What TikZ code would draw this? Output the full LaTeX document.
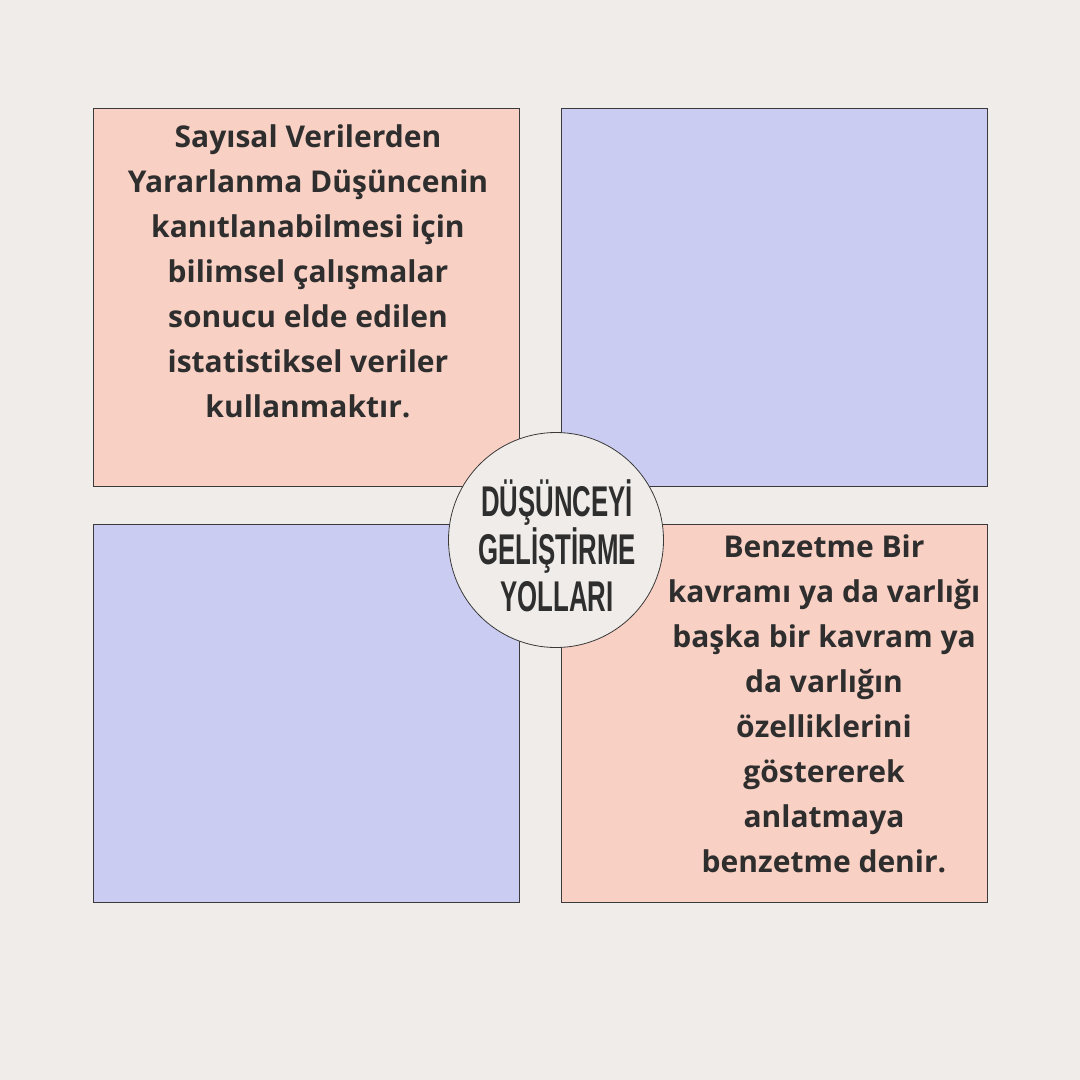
\documentclass[tikz,border=0pt]{standalone}
\usepackage{fontspec}
\setmainfont{Open Sans}
\newfontfamily\titlefont{Liberation Sans}
\definecolor{bgc}{HTML}{F0ECEA}
\definecolor{peach}{HTML}{F9D0C4}
\definecolor{lav}{HTML}{CACCF2}
\definecolor{ink}{HTML}{2E2E2E}
\definecolor{edge}{HTML}{3A3A3A}
\tikzset{
  panel/.style={draw=edge, line width=0.8pt},
  bodytext/.style={text=ink, align=center, inner sep=0pt, anchor=north,
    font=\fontsize{30}{45}\selectfont\bfseries},
  hub/.style={circle, draw=edge, line width=0.8pt, fill=bgc, minimum size=215pt, inner sep=0pt},
  hubtext/.style={text=ink, align=center, inner sep=0pt, xscale=0.6, transform shape,
    font=\fontsize{43}{47.5}\selectfont\titlefont\bfseries}
}
\begin{document}
\begin{tikzpicture}[x=1pt,y=-1pt]
\fill[bgc] (0,0) rectangle (1080,1080);
\useasboundingbox (0,0) rectangle (1080,1080);
\draw[panel, fill=peach] (93,108) rectangle (519,486);
\draw[panel, fill=lav] (561,108) rectangle (987,486);
\draw[panel, fill=lav] (93,524) rectangle (519,902);
\draw[panel, fill=peach] (561,524) rectangle (987,902);
\node[bodytext] (tl) at (308,124) {Sayısal Verilerden\\Yararlanma Düşüncenin\\kanıtlanabilmesi için\\bilimsel çalışmalar\\sonucu elde edilen\\istatistiksel veriler\\kullanmaktır.};
\node[bodytext] (br) at (824,534) {Benzetme Bir\\kavramı ya da varlığı\\başka bir kavram ya\\da varlığın\\özelliklerini\\göstererek\\anlatmaya\\benzetme denir.};
\node[hub] (hub) at (556,540) {};
\node[hubtext] (title) at (557,546) {DÜŞÜNCEYİ\\GELİŞTİRME\\YOLLARI};
\end{tikzpicture}
\end{document}
